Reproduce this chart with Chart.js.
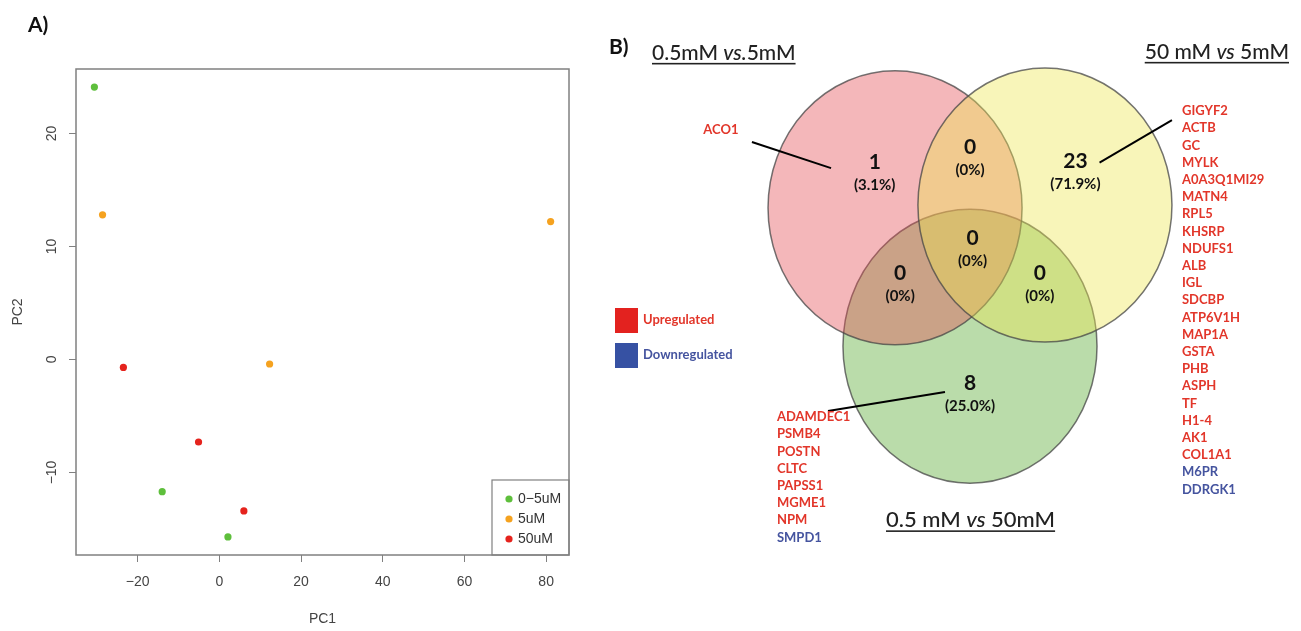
<!DOCTYPE html>
<html>
<head>
<meta charset="utf-8">
<script src="https://cdn.jsdelivr.net/npm/chart.js@4/dist/chart.umd.min.js"></script>
<style>
  body { margin: 0; background: #fff; }
  #page { position: relative; width: 1301px; height: 631px; overflow: hidden; }
  .box { position: absolute; top: 0; height: 631px; }
  .tag { position: absolute; font: bold 21px Lato, sans-serif; color: #111; }
</style>
</head>
<body>
<div id="page">
  <div class="box" style="left:0;width:600px"><canvas id="pcaChart"></canvas></div>
  <div class="box" style="left:600px;width:701px"><canvas id="vennChart"></canvas></div>
  <div class="tag" style="left:28px;top:11px">A)</div>
  <div class="tag" style="left:609px;top:33px">B)</div>
</div>
<script>
// Panel A: PCA scores
const groups = ['0−5uM', '5uM', '50uM'];
const groupColors = ['#5ebf3c', '#f5a21f', '#e5231d'];
const pc1Low = [-30.6, -14.0, 2.1];
const pc2Low = [24.1, -11.7, -15.7];
const pc1Mid = [-28.6, 81.1, 12.3];
const pc2Mid = [12.8, 12.2, -0.4];
const pc1High = [-23.5, -5.1, 6.0];
const pc2High = [-0.7, -7.3, -13.4];
const pc1Ticks = [-20, 0, 20, 40, 60, 80];
const pc2Ticks = [-10, 0, 10, 20];

// Panel B: Venn of differentially expressed proteins
const setNames = ['0.5mM vs.5mM', '50 mM vs 5mM', '0.5 mM vs 50mM'];
const regionCounts = [1, 0, 23, 0, 0, 0, 8]; // A, A∩B, B, all, A∩C, B∩C, C
const regionPercents = ['3.1%', '0%', '71.9%', '0%', '0%', '0%', '25.0%'];
const genesOnlyA = ['ACO1'];
const genesOnlyB = ['GIGYF2', 'ACTB', 'GC', 'MYLK', 'A0A3Q1MI29', 'MATN4', 'RPL5', 'KHSRP', 'NDUFS1',
  'ALB', 'IGL', 'SDCBP', 'ATP6V1H', 'MAP1A', 'GSTA', 'PHB', 'ASPH', 'TF', 'H1-4', 'AK1', 'COL1A1',
  'M6PR', 'DDRGK1'];
const genesOnlyC = ['ADAMDEC1', 'PSMB4', 'POSTN', 'CLTC', 'PAPSS1', 'MGME1', 'NPM', 'SMPD1'];
const downGenes = ['M6PR', 'DDRGK1', 'SMPD1'];
const regulation = ['Upregulated', 'Downregulated'];

// Venn layout (units = circle radius)
const vennCenters = [[-0.59, 0.33], [0.59, 0.35], [0, -0.68]];
const vennFills = ['rgba(228,75,83,0.4)', 'rgba(238,230,80,0.4)', 'rgba(82,168,42,0.4)'];
const vennDrawOrder = [2, 0, 1];
const regionSpots = [[-0.75, 0.66], [0, 0.77], [0.83, 0.67], [0.02, 0.11], [-0.55, -0.15], [0.55, -0.15], [0, -0.95]];
const UP = '#e2362a', DOWN = '#45549f';

const fmt = v => String(v).replace('-', '\u2212');
const rFont = '"Liberation Sans", Arial, sans-serif';

const framePlugin = {
  id: 'frame',
  afterDraw(chart) {
    const { ctx, chartArea: a } = chart;
    ctx.save();
    ctx.strokeStyle = '#808080';
    ctx.lineWidth = 1.5;
    ctx.strokeRect(a.left, a.top, a.width, a.height);
    // legend box in the bottom-right corner
    const w = 77, h = 75, left = a.right - w, top = a.bottom - h;
    ctx.lineWidth = 1.2;
    ctx.strokeRect(left, top, w, h);
    ctx.font = '14px ' + rFont;
    ctx.textBaseline = 'middle';
    chart.data.datasets.forEach((ds, i) => {
      const yy = top + 19 + i * 20;
      ctx.fillStyle = ds.backgroundColor;
      ctx.beginPath();
      ctx.arc(left + 17, yy, 3.6, 0, Math.PI * 2);
      ctx.fill();
      ctx.fillStyle = '#333';
      ctx.fillText(ds.label, left + 26, yy);
    });
    ctx.restore();
  }
};

const pcaSets = [[pc1Low, pc2Low], [pc1Mid, pc2Mid], [pc1High, pc2High]];

new Chart(document.getElementById('pcaChart'), {
  type: 'scatter',
  data: {
    datasets: groups.map((g, i) => ({
      label: g,
      data: pcaSets[i][0].map((x, j) => ({ x, y: pcaSets[i][1][j] })),
      backgroundColor: groupColors[i],
      borderWidth: 0,
      pointRadius: 3.6
    }))
  },
  options: {
    responsive: true,
    maintainAspectRatio: false,
    animation: false,
    layout: { padding: { top: 69, right: 31, left: 0, bottom: 0 } },
    plugins: { legend: { display: false }, tooltip: { enabled: false } },
    scales: {
      x: {
        type: 'linear', min: -35.1, max: 85.6,
        afterFit: s => { s.height = 76; },
        afterBuildTicks: s => { s.ticks = pc1Ticks.map(v => ({ value: v })); },
        grid: { drawOnChartArea: false, drawTicks: true, tickLength: 7, color: '#808080' },
        border: { display: false },
        ticks: { padding: 12, color: '#444', maxRotation: 0, font: { family: rFont, size: 14 }, callback: v => fmt(v) },
        title: { display: true, text: 'PC1', color: '#444', font: { family: rFont, size: 14 }, padding: { bottom: 3 } }
      },
      y: {
        type: 'linear', min: -17.3, max: 25.7,
        afterFit: s => { s.width = 76; },
        afterBuildTicks: s => { s.ticks = pc2Ticks.map(v => ({ value: v })); },
        grid: { drawOnChartArea: false, drawTicks: true, tickLength: 7, color: '#808080' },
        border: { display: false },
        ticks: { padding: 5, color: '#444', minRotation: 90, maxRotation: 90, crossAlign: 'center', font: { family: rFont, size: 14 }, callback: v => fmt(v) },
        title: { display: true, text: 'PC2', color: '#444', font: { family: rFont, size: 14 }, padding: { top: 10 } }
      }
    }
  },
  plugins: [framePlugin]
});

function drawTitle(ctx, text, x, y, align, size) {
  const parts = text.split(/(vs\.?)/).filter(p => p.length);
  const fonts = parts.map(p => (/^vs/.test(p) ? 'italic ' : '') + '500 ' + size + 'px Lato, sans-serif');
  const widths = parts.map((p, i) => { ctx.font = fonts[i]; return ctx.measureText(p).width; });
  const total = widths.reduce((a, b) => a + b, 0);
  let cx = align === 'right' ? x - total : x;
  const start = cx;
  ctx.textAlign = 'left';
  ctx.textBaseline = 'middle';
  parts.forEach((p, i) => { ctx.font = fonts[i]; ctx.fillText(p, cx, y); cx += widths[i]; });
  ctx.fillRect(start, y + size * 0.47, total, 1.6);
}

function drawGenes(ctx, genes, x, y) {
  ctx.font = 'bold 13px Lato, sans-serif';
  ctx.textAlign = 'left';
  ctx.textBaseline = 'middle';
  genes.forEach((g, i) => {
    ctx.fillStyle = downGenes.includes(g) ? DOWN : UP;
    ctx.fillText(g, x, y + i * 17.2);
  });
}

const vennPlugin = {
  id: 'venn',
  afterDraw(chart) {
    const { ctx, scales: { x, y } } = chart;
    const px = v => x.getPixelForValue(v);
    const py = v => y.getPixelForValue(v);
    ctx.save();
    vennDrawOrder.forEach(i => {
      const [cx, cy] = vennCenters[i];
      ctx.beginPath();
      ctx.ellipse(px(cx), py(cy), px(cx + 1) - px(cx), py(cy) - py(cy + 1), 0, 0, Math.PI * 2);
      ctx.fillStyle = vennFills[i];
      ctx.fill();
      ctx.strokeStyle = 'rgba(70,70,70,0.75)';
      ctx.lineWidth = 1.5;
      ctx.stroke();
    });

    // counts and percentages
    ctx.fillStyle = '#111';
    ctx.textAlign = 'center';
    ctx.textBaseline = 'middle';
    regionCounts.forEach((n, i) => {
      const [ux, uy] = regionSpots[i];
      ctx.font = 'bold 21px Lato, sans-serif';
      ctx.fillText(String(n), px(ux), py(uy));
      ctx.font = 'bold 15px Lato, sans-serif';
      ctx.fillText('(' + regionPercents[i] + ')', px(ux), py(uy) + 23);
    });

    // leader lines
    ctx.strokeStyle = '#000';
    ctx.lineWidth = 2;
    [[[-1.717, 0.81], [-1.094, 0.62]], [[1.02, 0.66], [1.59, 0.97]], [[-0.197, -1.015], [-1.118, -1.153]]]
      .forEach(([a, b]) => {
        ctx.beginPath();
        ctx.moveTo(px(a[0]), py(a[1]));
        ctx.lineTo(px(b[0]), py(b[1]));
        ctx.stroke();
      });

    // gene lists
    drawGenes(ctx, genesOnlyA, px(-2.10), py(0.898));
    drawGenes(ctx, genesOnlyB, px(1.669), py(1.036));
    drawGenes(ctx, genesOnlyC, px(-1.52), py(-1.197));

    // set titles
    ctx.fillStyle = '#222';
    drawTitle(ctx, setNames[0], 52, 53, 'left', 21);
    drawTitle(ctx, setNames[1], 689, 52, 'right', 21);
    drawTitle(ctx, setNames[2], 286, 520, 'left', 22);

    // regulation key
    [UP, DOWN].forEach((c, i) => {
      ctx.fillStyle = c === UP ? '#e3221f' : '#3651a3';
      ctx.fillRect(15, 308 + i * 35, 23, 25);
      ctx.fillStyle = c;
      ctx.font = 'bold 13px Lato, sans-serif';
      ctx.textAlign = 'left';
      ctx.fillText(regulation[i], 43, 320 + i * 35);
    });
    ctx.restore();
  }
};

new Chart(document.getElementById('vennChart'), {
  type: 'scatter',
  data: { datasets: [] },
  options: {
    responsive: true,
    maintainAspectRatio: false,
    animation: false,
    layout: { padding: 0 },
    plugins: { legend: { display: false }, tooltip: { enabled: false } },
    scales: {
      x: { type: 'linear', display: false, min: -2.913, max: 2.606 },
      y: { type: 'linear', display: false, min: -2.759, max: 1.847 }
    }
  },
  plugins: [vennPlugin]
});
</script>
</body>
</html>
